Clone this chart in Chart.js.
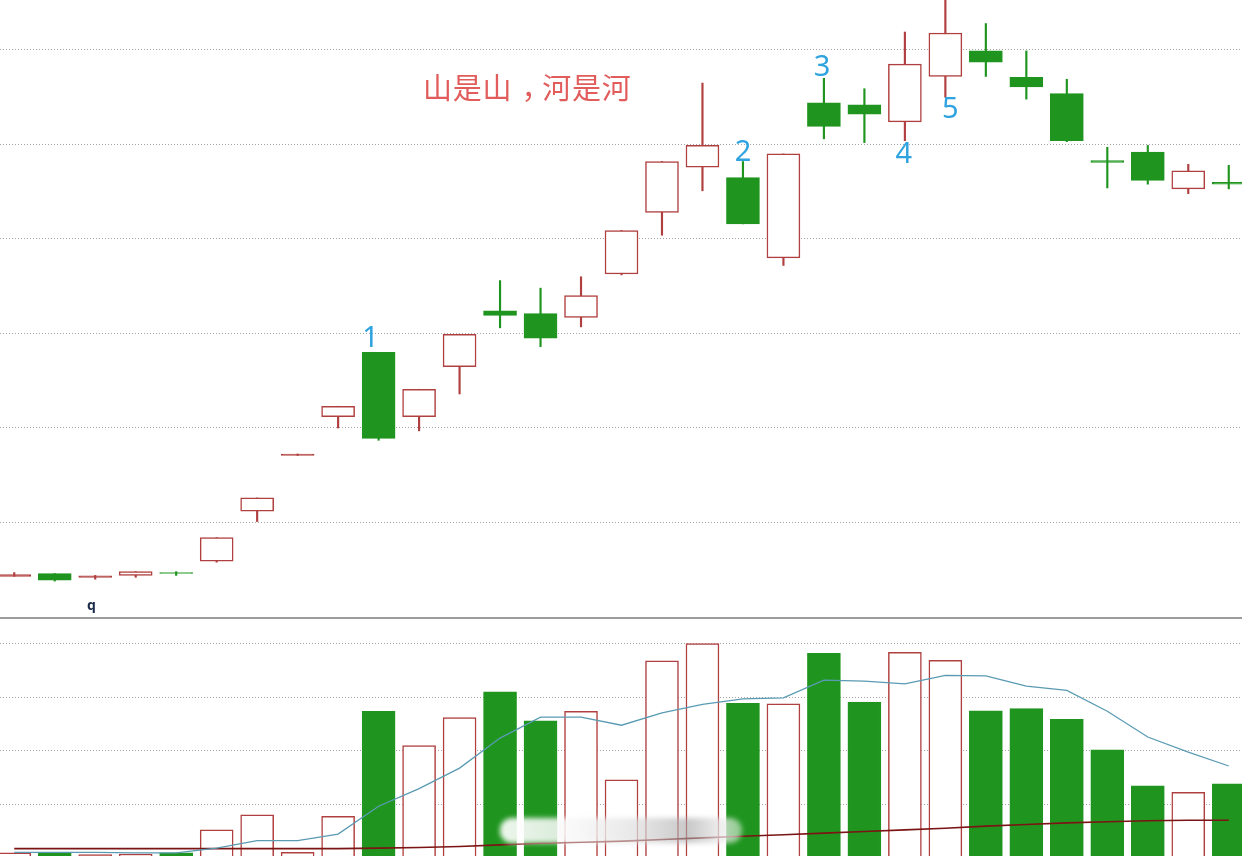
<!DOCTYPE html>
<html>
<head>
<meta charset="utf-8">
<script src="https://cdn.jsdelivr.net/npm/chart.js@4.4.1/dist/chart.umd.min.js"></script>
<style>
html,body{margin:0;padding:0;background:#fff;overflow:hidden;width:1242px;height:856px;position:relative}
#wrapTop{position:absolute;left:-6px;top:0;width:1255px;height:617px}
#wrapVol{position:absolute;left:-6px;top:619px;width:1255px;height:237px}
#sep{position:absolute;left:0;top:617px;width:1242px;height:2px;background:#9c9c9c}
.title{position:absolute;left:423px;top:72px;font-family:"Noto Sans CJK SC";font-size:29px;line-height:29px;color:#e25c5c;letter-spacing:0.8px;white-space:nowrap}
.title .cm{position:relative;left:9px}
.q{position:absolute;left:87px;top:597px;font-family:"Noto Sans";font-weight:bold;font-size:14px;line-height:16px;color:#1c2b4a}
.wm{position:absolute;left:500px;top:818px;width:242px;height:25px;border-radius:12px;
 background:linear-gradient(90deg,rgba(255,255,255,0.92) 0%,rgba(248,248,248,0.85) 30%,rgba(225,225,225,0.75) 55%,rgba(165,165,165,0.6) 78%,rgba(235,235,235,0.75) 92%,rgba(255,255,255,0.5) 100%);
 filter:blur(2.5px)}
</style>
</head>
<body>
<div id="wrapTop"><canvas id="top" width="1255" height="617"></canvas></div>
<div id="sep"></div>
<div id="wrapVol"><canvas id="vol" width="1255" height="237"></canvas></div>
<div class="title">山是山<span class="cm">，</span>河是河</div>
<div class="q">q</div>
<div class="wm"></div>
<script>
// ---- data ----
const days = ['1','2','3','4','5','6','7','8','9','10','11','12','13','14','15','16','17','18','19','20','21','22','23','24','25','26','27','28','29','30','31'];
const opens  = [9.43, 9.46, 9.42, 9.44, 9.47, 9.59, 10.12, 10.71, 11.12, 11.80, 11.12, 11.65, 12.24, 12.21, 12.17, 12.63, 13.28, 13.76, 13.65, 12.80, 14.44, 14.42, 14.24, 14.72, 14.99, 14.71, 14.54, 13.83, 13.92, 13.53, 13.60];
const closes = [9.45, 9.39, 9.435, 9.48, 9.46, 9.84, 10.26, 10.725, 11.23, 10.89, 11.41, 11.99, 12.19, 11.95, 12.40, 13.09, 13.82, 13.99, 13.16, 13.90, 14.19, 14.32, 14.85, 15.18, 14.87, 14.61, 14.04, 13.81, 13.62, 13.72, 13.58];
const highs  = [9.47, 9.46, 9.44, 9.48, 9.48, 9.84, 10.26, 10.725, 11.23, 11.80, 11.41, 11.99, 12.56, 12.48, 12.60, 13.09, 13.82, 14.65, 13.82, 13.90, 14.70, 14.59, 15.19, 15.55, 15.28, 14.99, 14.69, 13.97, 13.99, 13.79, 13.78];
const lows   = [9.43, 9.38, 9.40, 9.42, 9.44, 9.58, 10.01, 10.71, 11.00, 10.87, 10.97, 11.36, 12.06, 11.86, 12.07, 12.62, 13.04, 13.51, 13.16, 12.72, 14.06, 14.02, 14.04, 14.50, 14.72, 14.48, 14.03, 13.54, 13.58, 13.48, 13.53];
const volumes = [0.10, 0.11, 0.07, 0.08, 0.10, 0.53, 0.81, 0.11, 0.78, 2.74, 2.10, 2.62, 3.10, 2.56, 2.74, 1.46, 3.68, 4.00, 2.89, 2.88, 3.82, 2.91, 3.84, 3.69, 2.75, 2.79, 2.59, 2.02, 1.35, 1.23, 1.39];
const volMAShort = [0.11, 0.11, 0.11, 0.10, 0.10, 0.19, 0.33, 0.33, 0.45, 0.97, 1.30, 1.68, 2.24, 2.63, 2.63, 2.48, 2.71, 2.87, 2.97, 2.99, 3.32, 3.30, 3.25, 3.41, 3.40, 3.21, 3.13, 2.74, 2.26, 1.98, 1.72];
const volMALong  = [0.18, 0.18, 0.18, 0.18, 0.18, 0.18, 0.18, 0.18, 0.18, 0.19, 0.20, 0.22, 0.25, 0.28, 0.30, 0.32, 0.35, 0.38, 0.41, 0.44, 0.47, 0.50, 0.53, 0.56, 0.60, 0.63, 0.66, 0.68, 0.70, 0.71, 0.71];
const markIndex = [9, 18, 20, 22, 23];
const markText  = ['1', '2', '3', '4', '5'];
const markSide  = ['above', 'above', 'above', 'below', 'below'];
const priceTicks = [10, 11, 12, 13, 14, 15];
const volTicks = [1, 2, 3, 4];

// ---- styles ----
const UP = '#b0403f';
const DOWN = '#1f951f';
const GRID = '#a4a4a4';
const DOJI = 0.03;
const markDx  = [-8, 0, -2, -1, 5];
const markGap = [5, 1, 2.5, 1.5, 0];

const isUp = opens.map((o, i) => closes[i] >= o);
const bodyData = opens.map((o, i) => [Math.min(o, closes[i]), Math.max(o, closes[i])]);
const wickData = lows.map((l, i) => [l, highs[i]]);
const bodyFill = isUp.map((u, i) => u ? (Math.abs(closes[i] - opens[i]) < DOJI ? UP : '#ffffff') : DOWN);

const markPlugin = {
  id: 'marks',
  afterDatasetsDraw(chart) {
    const {ctx} = chart; const x = chart.scales.x, y = chart.scales.y;
    ctx.save();
    ctx.font = '29px "Noto Sans"';
    ctx.fillStyle = '#2ea3df';
    ctx.textAlign = 'center';
    ctx.textBaseline = 'alphabetic';
    markIndex.forEach((idx, k) => {
      const t = markText[k];
      const asc = ctx.measureText(t).actualBoundingBoxAscent;
      const cx = x.getPixelForValue(idx) + markDx[k];
      const base = markSide[k] === 'above'
        ? y.getPixelForValue(highs[idx]) - markGap[k]
        : y.getPixelForValue(lows[idx]) + markGap[k] + asc;
      ctx.fillText(t, cx, base);
    });
    ctx.restore();
  }
};

function gridColor(list) {
  return (c) => (c.tick && list.includes(c.tick.value)) ? GRID : 'rgba(0,0,0,0)';
}

new Chart(document.getElementById('top'), {
  type: 'bar',
  data: {
    labels: days,
    datasets: [
      { data: wickData, order: 2, grouped: false, barThickness: 1.5,
        backgroundColor: isUp.map(u => u ? UP : DOWN), borderWidth: 0 },
      { data: bodyData, order: 1, grouped: false, barThickness: 33,
        backgroundColor: bodyFill,
        borderColor: isUp.map(u => u ? UP : DOWN), borderWidth: 1.5, borderSkipped: false }
    ]
  },
  options: {
    responsive: false, animation: false, devicePixelRatio: 1,
    layout: { padding: 0, autoPadding: false },
    plugins: { legend: { display: false }, tooltip: { enabled: false } },
    scales: {
      x: { display: false, offset: true },
      y: { min: 9, max: 15.529, ticks: { display: false, stepSize: 1 },
           grid: { drawTicks: false, lineWidth: 1, color: gridColor(priceTicks) },
           border: { display: false, dash: [1, 2] } }
    }
  },
  plugins: [markPlugin]
});

new Chart(document.getElementById('vol'), {
  type: 'bar',
  data: {
    labels: days,
    datasets: [
      { type: 'line', data: volMAShort, order: 0, borderColor: '#5a9bb3', borderWidth: 1.3, pointRadius: 0, tension: 0 },
      { type: 'line', data: volMALong, order: 0, borderColor: '#7b1414', borderWidth: 1.6, pointRadius: 0, tension: 0 },
      { type: 'bar', data: volumes, order: 1, barThickness: 33,
        backgroundColor: isUp.map(u => u ? '#ffffff' : DOWN),
        borderColor: isUp.map(u => u ? UP : DOWN), borderWidth: 1.5, borderSkipped: false }
    ]
  },
  options: {
    responsive: false, animation: false, devicePixelRatio: 1,
    layout: { padding: 0, autoPadding: false },
    plugins: { legend: { display: false }, tooltip: { enabled: false } },
    scales: {
      x: { display: false, offset: true },
      y: { min: 0.043, max: 4.459, ticks: { display: false, stepSize: 1 },
           grid: { drawTicks: false, lineWidth: 1, color: gridColor(volTicks) },
           border: { display: false, dash: [1, 2] } }
    }
  }
});
</script>
</body>
</html>
